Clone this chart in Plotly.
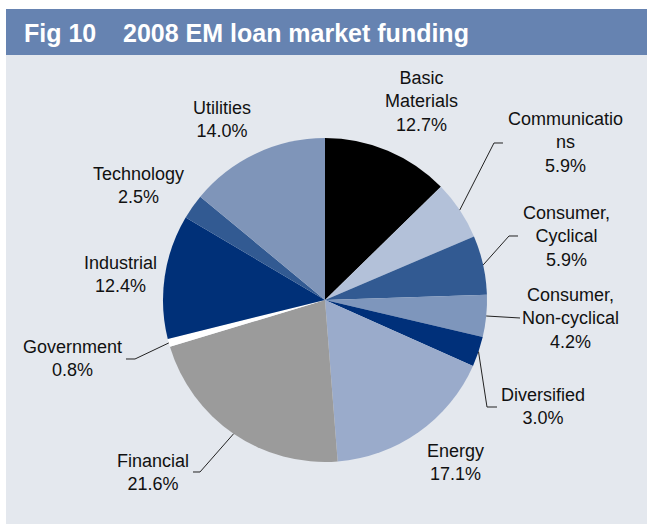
import math
import plotly.graph_objects as go

# Sector shares of 2008 EM loan market funding (%)
sectors = ["Basic Materials", "Communications", "Consumer, Cyclical",
           "Consumer, Non-cyclical", "Diversified", "Energy", "Financial",
           "Government", "Industrial", "Technology", "Utilities"]
shares = [12.7, 5.9, 5.9, 4.2, 3.0, 17.1, 21.6, 0.8, 12.4, 2.5, 14.0]
label_text = ["Basic<br>Materials", "Communicatio<br>ns", "Consumer,<br>Cyclical",
              "Consumer,<br>Non-cyclical", "Diversified", "Energy", "Financial",
              "Government", "Industrial", "Technology", "Utilities"]

colors = ["#000000", "#b3c1d9", "#325a92", "#7e96bc", "#00307a", "#9aabcb",
          "#9b9b9b", "#ffffff", "#003078", "#325a92", "#7f95b9"]

W, H = 647, 524
CX, CY, R = 325, 300, 162  # pie centre and radius in px (from top-left)


def px(x):
    return x / W


def py(y):
    return 1 - y / H


# label block centres (px) and optional leader elbow / end points (px)
label_pos = {
    "Basic Materials": (421, 102),
    "Communications": (565, 142),
    "Consumer, Cyclical": (566, 236),
    "Consumer, Non-cyclical": (570, 318),
    "Diversified": (543, 406),
    "Energy": (455, 462),
    "Financial": (153, 472),
    "Government": (72, 358),
    "Industrial": (120, 274),
    "Technology": (138, 185),
    "Utilities": (222, 120),
}
leaders = {
    "Communications": [(494, 143), (503, 143)],
    "Consumer, Cyclical": [(509, 236), (518, 236)],
    "Consumer, Non-cyclical": [(520, 318)],
    "Diversified": [(487, 407), (497, 407)],
    "Financial": [(200, 472), (193, 472)],
    "Government": [(135, 359), (126, 359)],
}

fig = go.Figure()
fig.add_trace(go.Pie(
    labels=sectors, values=shares, sort=False, direction="clockwise",
    rotation=0, textinfo="none", hoverinfo="label+percent",
    marker=dict(colors=colors, line=dict(width=0)),
    domain=dict(x=[px(CX - R), px(CX + R)], y=[py(CY + R), py(CY - R)]),
    showlegend=False,
))

shapes = [
    # panel background and title bar
    dict(type="rect", xref="paper", yref="paper", x0=px(6), x1=1, y0=0, y1=py(55),
         fillcolor="#e4e8ee", line=dict(width=0), layer="below"),
    dict(type="rect", xref="paper", yref="paper", x0=px(6), x1=1, y0=py(55), y1=py(9),
         fillcolor="#6683b1", line=dict(width=0), layer="below"),
]

title_font = dict(family="Liberation Sans, Arial", size=25, color="white")
annotations = [
    dict(text="<b>Fig 10</b>", x=px(22), y=py(32.5), xref="paper", yref="paper",
         xanchor="left", yanchor="middle", showarrow=False, font=title_font),
    dict(text="<b>2008 EM loan market funding</b>", x=px(121), y=py(32.5),
         xref="paper", yref="paper", xanchor="left", yanchor="middle",
         showarrow=False, font=title_font),
]

total = sum(shares)
cum = 0.0
for name, val, txt in zip(sectors, shares, label_text):
    mid = (cum + val / 2) / total * 2 * math.pi
    cum += val
    lx, ly = label_pos[name]
    annotations.append(dict(
        text=f"{txt}<br>{val:.1f}%", x=px(lx), y=py(ly), xref="paper", yref="paper",
        xanchor="center", yanchor="middle", showarrow=False, align="center",
        font=dict(family="Liberation Sans, Arial", size=18, color="#111111"),
    ))
    if name in leaders:
        ex, ey = CX + R * math.sin(mid), CY - R * math.cos(mid)
        pts = [(ex, ey)] + leaders[name]
        path = "M " + " L ".join(f"{px(a):.5f} {py(b):.5f}" for a, b in pts)
        shapes.append(dict(type="path", xref="paper", yref="paper", path=path,
                           line=dict(color="#222222", width=1)))

fig.update_layout(
    width=W, height=H, margin=dict(l=0, r=0, t=0, b=0),
    paper_bgcolor="white", plot_bgcolor="white",
    shapes=shapes, annotations=annotations,
)

fig.write_html("out.html")
